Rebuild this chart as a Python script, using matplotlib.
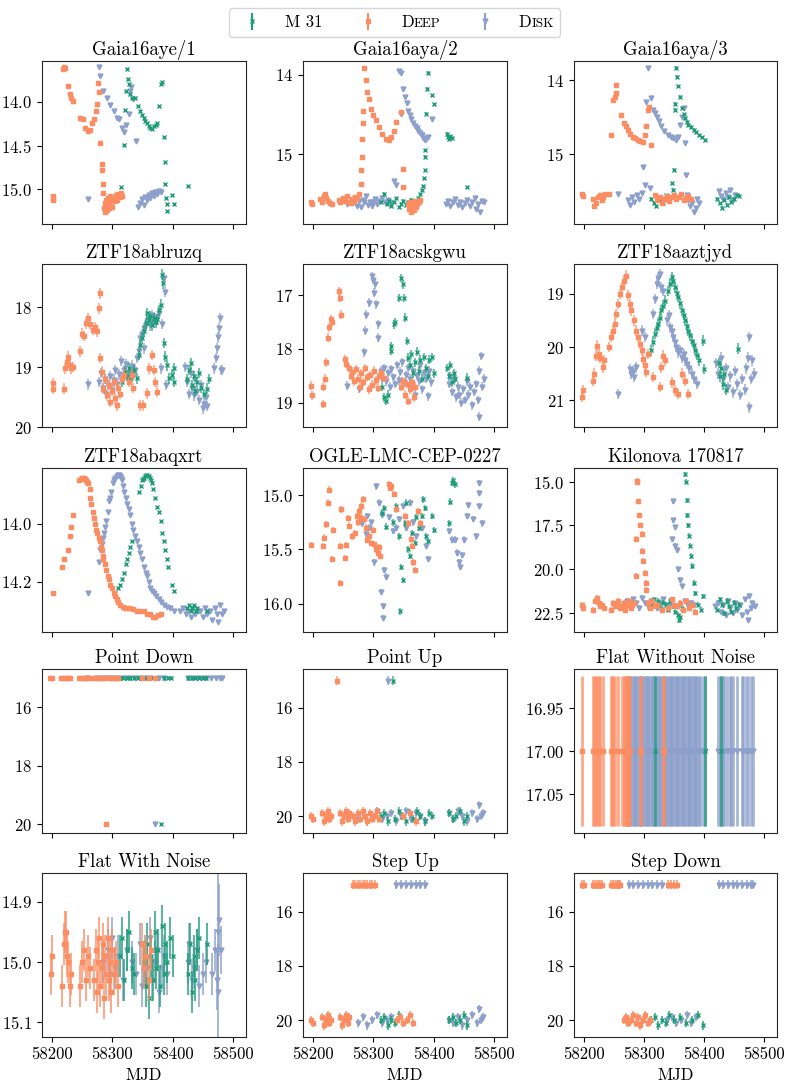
import matplotlib
matplotlib.use("Agg")
import matplotlib.pyplot as plt
from matplotlib.ticker import FixedLocator, ScalarFormatter
from matplotlib.offsetbox import TextArea, HPacker
from matplotlib.container import ErrorbarContainer
from matplotlib.collections import LineCollection

plt.rcParams['font.family'] = ['cmr10', 'DejaVu Serif']
plt.rcParams['mathtext.fontset'] = 'cm'
plt.rcParams['axes.formatter.use_mathtext'] = True
plt.rcParams['font.size'] = 11
plt.rcParams['axes.unicode_minus'] = False

# ---------------- data ----------------
titles = ["Gaia16aye/1", "Gaia16aya/2", "Gaia16aya/3",
          "ZTF18ablruzq", "ZTF18acskgwu", "ZTF18aaztjyd",
          "ZTF18abaqxrt", "OGLE-LMC-CEP-0227", "Kilonova 170817",
          "Point Down", "Point Up", "Flat Without Noise",
          "Flat With Noise", "Step Up", "Step Down"]
survey_labels = ["M 31", "Deep", "Disk"]
xticks = [58200, 58300, 58400, 58500]

# Gaia16aye/1
aye1_m31_t = [58315, 58319, 58321, 58322, 58324, 58326, 58327, 58330, 58332, 58338, 58342, 58346, 58349, 58352, 58354, 58357, 58360, 58363, 58366, 58369, 58372, 58374, 58377, 58380, 58382, 58385, 58387, 58388, 58389, 58390, 58391, 58399, 58402, 58425]
aye1_m31_m = [14.98, 14.49, 14.09, 13.87, 13.62, 13.74, 13.79, 13.91, 13.95, 13.95, 14.05, 14.10, 14.15, 14.18, 14.22, 14.24, 14.27, 14.30, 14.31, 14.28, 14.26, 14.24, 14.05, 13.79, 13.77, 14.40, 14.69, 14.94, 15.10, 15.17, 15.25, 15.07, 15.17, 14.96]
aye1_deep_t = [58201, 58201.5, 58202, 58218, 58219.5, 58221, 58226, 58230, 58232, 58235, 58246, 58251, 58255, 58259, 58262, 58266, 58270, 58272, 58274, 58276, 58278, 58280, 58282, 58283, 58284, 58285, 58286, 58287, 58288, 58289, 58290, 58291, 58292, 58293, 58294, 58295, 58296, 58297, 58298, 58300, 58302, 58304, 58306, 58308, 58310, 58312, 58314, 58316]
aye1_deep_m = [15.08, 15.11, 15.13, 13.62, 13.60, 13.61, 13.82, 13.91, 13.95, 13.99, 14.18, 14.19, 14.30, 14.33, 14.32, 14.24, 14.20, 14.10, 14.02, 13.78, 13.89, 14.47, 14.71, 14.78, 14.94, 15.05, 15.22, 15.16, 15.26, 15.20, 15.12, 15.24, 15.18, 15.10, 15.22, 15.15, 15.08, 15.19, 15.12, 15.21, 15.10, 15.14, 15.07, 15.12, 15.06, 15.09, 15.05, 15.08]
aye1_disk_t = [58259, 58278, 58280, 58285, 58291, 58296, 58302, 58307, 58311, 58316, 58320, 58323, 58327, 58329, 58331, 58335, 58339, 58343, 58346, 58349, 58352, 58354, 58357, 58360, 58363, 58366, 58369, 58371, 58374, 58377, 58380]
aye1_disk_m = [15.11, 13.60, 13.70, 13.87, 13.95, 14.03, 14.10, 14.18, 14.20, 14.30, 14.34, 14.26, 14.14, 13.87, 13.83, 13.97, 14.45, 15.21, 15.16, 15.11, 15.18, 15.09, 15.12, 15.07, 15.10, 15.05, 15.08, 15.03, 15.06, 15.02, 15.03]
aye1_err = [0.01, 0.01, 0.01]

# Gaia16aya/2
aya2_m31_t = [58312, 58318, 58322, 58326, 58330, 58334, 58338, 58342, 58346, 58350, 58354, 58358, 58362, 58366, 58370, 58374, 58378, 58380, 58382, 58384, 58385, 58385.5, 58386, 58388, 58388.5, 58391, 58397, 58401, 58422, 58424, 58426, 58428, 58430, 58456]
aya2_m31_m = [15.60, 15.49, 15.62, 15.58, 15.64, 15.60, 15.55, 15.66, 15.62, 15.58, 15.63, 15.60, 15.57, 15.65, 15.59, 15.55, 15.50, 15.45, 15.40, 15.30, 15.20, 15.03, 14.95, 14.49, 14.18, 13.98, 14.26, 14.37, 14.74, 14.78, 14.80, 14.77, 14.79, 15.41]
aya2_deep_t = [58197, 58198, 58211, 58214, 58218, 58220, 58222, 58225, 58228, 58231, 58242, 58245, 58250, 58253, 58256, 58259, 58262, 58265, 58268, 58270, 58273, 58276, 58279, 58280, 58281, 58281.5, 58282, 58283, 58285, 58287, 58290, 58293, 58296, 58300, 58304, 58310, 58315, 58321, 58326, 58330, 58334, 58338, 58346, 58349, 58350, 58357, 58359, 58361, 58363, 58365, 58367, 58369, 58371, 58373, 58375, 58378]
aya2_deep_m = [15.60, 15.62, 15.56, 15.60, 15.52, 15.49, 15.55, 15.58, 15.61, 15.62, 15.57, 15.60, 15.55, 15.58, 15.52, 15.59, 15.61, 15.56, 15.58, 15.53, 15.55, 15.49, 15.37, 15.20, 15.03, 14.80, 14.60, 14.45, 13.92, 14.07, 14.22, 14.30, 14.43, 14.51, 14.57, 14.66, 14.74, 14.80, 14.82, 14.78, 14.70, 14.59, 14.47, 15.18, 15.41, 15.62, 15.68, 15.60, 15.72, 15.65, 15.70, 15.58, 15.66, 15.62, 15.60, 15.57]
aya2_disk_t = [58256, 58267, 58270, 58273, 58276, 58279, 58282, 58285, 58288, 58291, 58294, 58297, 58300, 58303, 58306, 58310, 58315, 58320, 58325, 58330, 58335, 58338, 58343, 58346, 58346.5, 58349, 58352, 58355, 58357, 58360, 58363, 58366, 58369, 58372, 58374, 58377, 58380, 58383, 58385, 58388, 58390, 58397, 58420, 58424, 58428, 58432, 58436, 58440, 58444, 58448, 58452, 58456, 58460, 58464, 58468, 58471, 58474, 58477, 58480, 58484]
aya2_disk_m = [15.62, 15.60, 15.55, 15.64, 15.58, 15.66, 15.57, 15.60, 15.52, 15.63, 15.59, 15.65, 15.60, 15.56, 15.62, 15.58, 15.55, 15.60, 15.57, 15.61, 15.33, 15.38, 13.96, 13.98, 14.49, 14.18, 14.28, 14.36, 14.45, 14.50, 14.55, 14.60, 14.64, 14.67, 14.70, 14.73, 14.76, 14.79, 14.82, 14.80, 14.78, 14.55, 15.62, 15.58, 15.65, 15.60, 15.56, 15.63, 15.59, 15.66, 15.61, 15.57, 15.64, 15.60, 15.55, 15.68, 15.62, 15.72, 15.58, 15.60]
aya2_err = [0.02, 0.02, 0.02]

# Gaia16aya/3
aya3_m31_t = [58312, 58316, 58320, 58324, 58328, 58332, 58336, 58340, 58344, 58346, 58348, 58350, 58352, 58352.5, 58353, 58355, 58357, 58360, 58363, 58366, 58369, 58372, 58374, 58378, 58383, 58387, 58391, 58396, 58402, 58422, 58426, 58430, 58434, 58438, 58442, 58446, 58450, 58455, 58458]
aya3_m31_m = [15.60, 15.65, 15.70, 15.58, 15.62, 15.66, 15.55, 15.60, 15.58, 15.39, 15.48, 15.21, 14.40, 14.32, 13.83, 13.95, 14.08, 14.22, 14.38, 14.46, 14.51, 14.56, 14.60, 14.63, 14.67, 14.70, 14.74, 14.77, 14.81, 15.60, 15.66, 15.72, 15.62, 15.68, 15.58, 15.64, 15.60, 15.55, 15.56]
aya3_deep_t = [58197, 58198, 58214, 58217, 58220, 58223, 58226, 58229, 58232, 58234, 58242, 58245, 58248, 58252, 58252.5, 58253, 58262, 58267, 58270, 58273, 58277, 58281, 58285, 58290, 58294, 58298, 58301, 58304, 58306, 58308, 58311, 58318, 58322, 58326, 58330, 58334, 58338, 58342, 58346, 58350, 58354, 58358, 58362, 58366, 58370, 58374, 58378]
aya3_deep_m = [15.53, 15.56, 15.60, 15.70, 15.66, 15.58, 15.55, 15.62, 15.57, 15.54, 15.54, 14.74, 14.26, 14.22, 14.07, 14.17, 14.47, 14.58, 14.62, 14.67, 14.72, 14.76, 14.78, 14.81, 14.82, 14.83, 14.74, 14.62, 14.40, 14.36, 14.88, 15.55, 15.62, 15.58, 15.66, 15.60, 15.56, 15.63, 15.58, 15.55, 15.60, 15.57, 15.53, 15.62, 15.59, 15.56, 15.60]
aya3_disk_t = [58256, 58273, 58276, 58280, 58284, 58288, 58292, 58296, 58298, 58301, 58304, 58307, 58310, 58312, 58315, 58318, 58321, 58325, 58329, 58334, 58340, 58345, 58349, 58354, 58357, 58360, 58363, 58366, 58369, 58370, 58371, 58374, 58377, 58380, 58383, 58386, 58389, 58391, 58425, 58428, 58432, 58436, 58440, 58444, 58448, 58452]
aya3_disk_m = [15.53, 15.62, 15.68, 15.58, 15.64, 15.55, 15.60, 15.52, 15.17, 15.42, 14.29, 13.83, 15.45, 14.24, 14.40, 14.44, 14.49, 14.55, 14.62, 14.68, 14.74, 14.77, 14.78, 14.81, 14.76, 14.60, 14.49, 14.38, 14.85, 15.28, 15.55, 15.62, 15.70, 15.65, 15.78, 15.72, 15.60, 15.66, 15.50, 15.56, 15.60, 15.52, 15.58, 15.48, 15.62, 15.55]
aya3_err = [0.02, 0.02, 0.02]

# ZTF18ablruzq
abl_m31_t = [58316, 58321, 58324, 58327, 58330, 58332, 58336, 58341, 58344, 58346, 58349, 58352, 58355, 58357, 58360, 58363, 58366, 58369, 58372, 58374, 58377, 58380, 58382, 58384, 58386, 58388, 58391, 58394, 58399, 58402, 58402.5, 58424, 58427, 58430, 58432, 58435, 58438, 58441, 58444, 58448, 58452, 58457, 58460]
abl_m31_m = [19.25, 19.08, 19.15, 19.02, 19.20, 19.12, 19.05, 19.19, 18.80, 18.63, 18.52, 18.40, 18.27, 18.10, 18.22, 18.15, 18.30, 18.18, 18.25, 18.20, 18.05, 17.96, 17.46, 17.60, 18.60, 18.83, 18.97, 19.19, 19.13, 19.25, 19.02, 19.20, 19.05, 18.94, 19.30, 19.15, 19.40, 19.25, 19.10, 19.35, 19.45, 19.36, 19.20]
abl_deep_t = [58201, 58201.5, 58219, 58221, 58224, 58227, 58230, 58232, 58235, 58246, 58249, 58252, 58256, 58259, 58262, 58267, 58271, 58274, 58277, 58279, 58280, 58282, 58285, 58288, 58291, 58294, 58296, 58299, 58302, 58305, 58307, 58310, 58313, 58316, 58319, 58327, 58332, 58335, 58346, 58351, 58357, 58360, 58366, 58369, 58371, 58374]
abl_deep_m = [19.27, 19.36, 19.36, 19.02, 18.91, 18.83, 18.97, 19.02, 19.00, 18.74, 18.44, 18.48, 18.27, 18.18, 18.28, 18.38, 18.33, 18.40, 18.02, 17.77, 18.85, 19.08, 19.36, 19.20, 19.47, 19.30, 19.58, 19.40, 19.25, 19.52, 19.64, 19.35, 19.45, 19.20, 19.13, 19.25, 19.13, 19.35, 19.64, 19.64, 19.44, 19.02, 18.80, 19.05, 19.25, 19.41]
abl_disk_t = [58259, 58278, 58281, 58284, 58287, 58290, 58293, 58296, 58299, 58302, 58305, 58308, 58311, 58314, 58317, 58320, 58323, 58326, 58329, 58332, 58335, 58338, 58341, 58344, 58346, 58349, 58352, 58352.5, 58355, 58357, 58360, 58363, 58366, 58369, 58371, 58374, 58377, 58380, 58382, 58385, 58388, 58388.5, 58421, 58424, 58427, 58430, 58433, 58435, 58438, 58441, 58444, 58447, 58450, 58452, 58455, 58457, 58469, 58472, 58474, 58476, 58477, 58478, 58480, 58482]
abl_disk_m = [19.29, 19.25, 19.10, 19.35, 19.20, 19.45, 19.30, 19.15, 19.38, 19.22, 19.05, 19.28, 19.12, 18.90, 19.18, 19.05, 18.95, 19.20, 19.10, 18.98, 19.15, 19.05, 18.85, 18.74, 18.52, 18.45, 18.35, 18.69, 18.30, 18.24, 18.20, 18.30, 18.13, 18.25, 18.18, 18.20, 18.10, 19.02, 18.28, 17.51, 17.74, 19.30, 19.00, 19.25, 19.45, 19.10, 19.35, 19.47, 19.20, 19.40, 19.55, 19.30, 19.69, 19.62, 19.50, 19.65, 19.02, 18.85, 18.69, 18.50, 18.35, 18.18, 19.05, 19.05]
abl_err = [0.09, 0.09, 0.09]

# ZTF18acskgwu
acs_m31_t = [58315, 58318, 58321, 58324, 58329, 58330, 58334, 58336, 58343, 58346, 58349, 58351, 58352, 58355, 58357, 58360, 58363, 58366, 58369, 58372, 58375, 58378, 58381, 58384, 58387, 58390, 58393, 58397, 58400, 58422, 58425, 58428, 58431, 58434, 58436, 58456]
acs_m31_m = [18.71, 18.90, 18.96, 18.85, 18.03, 17.95, 17.54, 17.50, 17.05, 16.68, 16.80, 17.05, 17.42, 17.85, 18.16, 18.30, 18.10, 18.45, 18.25, 18.05, 18.40, 18.20, 18.55, 18.15, 18.35, 18.50, 18.20, 18.15, 18.45, 18.35, 18.50, 18.30, 18.62, 18.45, 18.55, 18.53]
acs_deep_t = [58197, 58197.5, 58216, 58217, 58219, 58221, 58225, 58227, 58229, 58231, 58242, 58245, 58246, 58253, 58255, 58259, 58262, 58265, 58268, 58271, 58274, 58277, 58280, 58283, 58286, 58289, 58292, 58295, 58298, 58301, 58304, 58307, 58310, 58312, 58318, 58346, 58349, 58352, 58355, 58358, 58361, 58364, 58367, 58369]
acs_deep_m = [18.68, 18.86, 19.02, 18.71, 18.55, 18.25, 17.79, 17.60, 17.45, 17.50, 16.93, 17.05, 17.36, 18.19, 18.28, 18.35, 18.50, 18.42, 18.60, 18.38, 18.55, 18.70, 18.45, 18.62, 18.35, 18.52, 18.75, 18.48, 18.66, 18.40, 18.58, 18.72, 18.50, 18.45, 18.53, 18.70, 18.60, 18.85, 18.65, 18.97, 18.75, 18.62, 18.90, 18.70]
acs_disk_t = [58256, 58276, 58284, 58286, 58288, 58293, 58298, 58300, 58300.5, 58302, 58304, 58307, 58308, 58312, 58315, 58318, 58321, 58324, 58327, 58330, 58333, 58336, 58339, 58342, 58345, 58348, 58351, 58354, 58357, 58360, 58363, 58366, 58369, 58372, 58375, 58378, 58381, 58384, 58387, 58390, 58393, 58396, 58425, 58428, 58431, 58434, 58437, 58440, 58443, 58446, 58449, 58452, 58455, 58458, 58461, 58464, 58467, 58470, 58473, 58475, 58476, 58478, 58480, 58483]
acs_disk_m = [18.68, 18.74, 18.06, 17.66, 17.36, 17.14, 16.65, 16.71, 16.95, 16.80, 17.17, 17.54, 17.79, 18.40, 18.55, 18.35, 18.60, 18.45, 18.70, 18.38, 18.52, 18.65, 18.30, 18.58, 18.42, 18.25, 18.62, 18.48, 18.35, 18.55, 18.72, 18.40, 18.85, 18.50, 18.60, 18.30, 18.75, 18.45, 18.55, 18.88, 18.40, 18.62, 18.65, 18.50, 18.80, 18.55, 18.90, 18.70, 18.85, 19.00, 18.75, 18.95, 18.60, 18.85, 18.70, 19.05, 18.80, 18.65, 18.95, 19.26, 18.40, 18.13, 18.70, 18.55]
acs_err = [0.08, 0.08, 0.08]

# ZTF18aaztjyd
azt_m31_t = [58312, 58315, 58318, 58321, 58324, 58327, 58329, 58332, 58335, 58340, 58343, 58346, 58349, 58352, 58355, 58357, 58360, 58363, 58366, 58369, 58372, 58374, 58377, 58380, 58383, 58385, 58388, 58391, 58399, 58399.5, 58425, 58427, 58429, 58431, 58433, 58436, 58457]
azt_m31_m = [20.06, 19.90, 19.75, 19.65, 19.56, 19.45, 19.31, 19.22, 19.13, 18.95, 18.81, 18.69, 18.75, 18.88, 18.98, 19.06, 19.18, 19.31, 19.40, 19.50, 19.60, 19.69, 19.78, 19.88, 19.96, 20.06, 20.15, 20.25, 19.88, 20.41, 20.30, 20.55, 20.40, 20.70, 20.50, 20.80, 20.03]
azt_deep_t = [58197, 58197.5, 58214, 58217, 58219, 58221, 58224, 58227, 58231, 58233, 58242, 58245, 58248, 58251, 58253, 58256, 58259, 58263, 58267, 58270, 58273, 58276, 58279, 58283, 58287, 58290, 58293, 58296, 58298, 58301, 58304, 58307, 58315, 58326, 58329, 58332, 58335, 58346, 58352, 58357, 58363, 58369, 58374]
azt_deep_m = [20.94, 20.81, 20.63, 20.50, 20.16, 19.97, 20.13, 20.20, 20.38, 20.25, 20.00, 19.81, 19.69, 19.56, 19.38, 19.19, 19.00, 18.88, 18.75, 18.66, 19.03, 19.19, 19.31, 19.50, 19.69, 19.81, 19.94, 20.06, 20.22, 20.34, 20.47, 20.13, 20.56, 20.75, 20.38, 20.16, 20.25, 20.66, 20.81, 20.88, 20.50, 20.63, 20.88]
azt_disk_t = [58256, 58276, 58279, 58282, 58284, 58287, 58296, 58301, 58315, 58318, 58321, 58324, 58326, 58329, 58332, 58338, 58341, 58343, 58346, 58349, 58352, 58354, 58357, 58360, 58363, 58366, 58369, 58371, 58375, 58380, 58384, 58388, 58420, 58424, 58428, 58432, 58436, 58440, 58444, 58448, 58452, 58456, 58460, 58464, 58468, 58471, 58474, 58475, 58476, 58478, 58481, 58484]
azt_disk_m = [20.88, 20.41, 20.50, 20.45, 20.56, 20.38, 19.69, 19.81, 19.38, 19.10, 18.81, 18.70, 18.63, 18.88, 18.95, 19.50, 19.40, 19.63, 19.70, 19.81, 19.90, 20.00, 20.10, 20.06, 20.20, 20.13, 20.25, 20.31, 20.40, 20.50, 20.60, 20.69, 20.30, 20.50, 20.20, 20.60, 20.40, 20.75, 20.55, 20.85, 20.45, 20.70, 20.90, 20.60, 20.80, 20.40, 20.20, 21.13, 19.81, 20.60, 20.25, 20.50]
azt_err = [0.1, 0.1, 0.1]

# ZTF18abaqxrt
abq_m31_t = [58305, 58309, 58313, 58316, 58319, 58322, 58324, 58327, 58330, 58332, 58345, 58347, 58349, 58351, 58352, 58354, 58356, 58358, 58360, 58362, 58364, 58366, 58368, 58371, 58374, 58377, 58380, 58382, 58385, 58388, 58390, 58392, 58399, 58402, 58424, 58427, 58430, 58433, 58436, 58439, 58441, 58457]
abq_m31_m = [14.24, 14.22, 14.21, 14.19, 14.17, 14.14, 14.12, 14.10, 14.08, 14.06, 13.89, 13.87, 13.85, 13.845, 13.84, 13.835, 13.83, 13.83, 13.835, 13.84, 13.85, 13.86, 13.88, 13.91, 13.94, 13.96, 13.99, 14.03, 14.06, 14.09, 14.12, 14.15, 14.21, 14.23, 14.29, 14.28, 14.30, 14.29, 14.28, 14.30, 14.29, 14.30]
abq_deep_t = [58201, 58217, 58220, 58226, 58229, 58231, 58234, 58245, 58247, 58249, 58251, 58253, 58255, 58256, 58258, 58260, 58262, 58263, 58265, 58267, 58269, 58271, 58273, 58275, 58277, 58279, 58281, 58282, 58284, 58285, 58287, 58290, 58292, 58294, 58296, 58299, 58302, 58305, 58307, 58310, 58313, 58317, 58321, 58325, 58330, 58335, 58341, 58346, 58352, 58357, 58363, 58367, 58371, 58375, 58380]
abq_deep_m = [14.24, 14.15, 14.12, 14.09, 14.04, 14.01, 13.97, 13.85, 13.845, 13.84, 13.84, 13.84, 13.845, 13.85, 13.855, 13.86, 13.88, 13.91, 13.93, 13.96, 13.98, 14.00, 14.02, 14.03, 14.05, 14.06, 14.08, 14.09, 14.11, 14.12, 14.14, 14.16, 14.18, 14.19, 14.21, 14.22, 14.24, 14.25, 14.26, 14.27, 14.28, 14.285, 14.29, 14.29, 14.29, 14.295, 14.30, 14.30, 14.30, 14.31, 14.31, 14.32, 14.32, 14.315, 14.31]
abq_disk_t = [58259, 58278, 58280, 58282, 58284, 58286, 58288, 58290, 58292, 58294, 58296, 58298, 58301, 58303, 58305, 58307, 58309, 58311, 58312, 58314, 58316, 58318, 58320, 58322, 58324, 58327, 58330, 58333, 58335, 58338, 58341, 58344, 58346, 58349, 58352, 58355, 58357, 58360, 58363, 58366, 58369, 58373, 58377, 58381, 58385, 58390, 58396, 58402, 58413, 58418, 58422, 58426, 58430, 58434, 58438, 58442, 58446, 58450, 58454, 58458, 58462, 58466, 58470, 58474, 58476, 58478, 58482, 58485]
abq_disk_m = [14.24, 14.13, 14.09, 14.07, 14.05, 14.03, 14.01, 13.99, 13.96, 13.92, 13.91, 13.89, 13.86, 13.85, 13.84, 13.835, 13.83, 13.83, 13.835, 13.84, 13.85, 13.87, 13.89, 13.91, 13.93, 13.95, 13.97, 14.00, 14.02, 14.04, 14.06, 14.08, 14.10, 14.12, 14.15, 14.17, 14.18, 14.20, 14.22, 14.23, 14.24, 14.25, 14.26, 14.27, 14.28, 14.285, 14.29, 14.30, 14.30, 14.29, 14.31, 14.30, 14.32, 14.29, 14.31, 14.30, 14.30, 14.32, 14.29, 14.31, 14.30, 14.33, 14.29, 14.31, 14.34, 14.28, 14.31, 14.30]
abq_err = [0.003, 0.003, 0.003]

# OGLE-LMC-CEP-0227
ogle_m31_t = [58315, 58318, 58321, 58332, 58338, 58343, 58343.5, 58346, 58349, 58352, 58354, 58357, 58360, 58364, 58369, 58371, 58375, 58380, 58383, 58385, 58388, 58391, 58397, 58401, 58425, 58427, 58430, 58433, 58436]
ogle_m31_m = [15.16, 15.12, 15.29, 15.25, 15.10, 15.38, 16.07, 15.66, 15.78, 15.26, 15.07, 15.50, 15.56, 15.35, 15.44, 15.20, 15.30, 15.19, 15.04, 15.12, 15.38, 15.42, 15.19, 15.32, 15.26, 15.06, 14.89, 14.86, 14.90]
ogle_deep_t = [58197, 58216, 58218, 58221, 58224, 58226, 58231, 58233, 58244, 58245, 58246, 58252, 58255, 58257, 58259, 58265, 58269, 58272, 58274, 58276, 58278, 58280, 58283, 58285, 58287, 58290, 58293, 58296, 58299, 58301, 58304, 58307, 58309, 58311, 58326, 58328, 58330, 58334, 58338, 58352, 58357, 58362, 58364, 58366, 58369, 58374, 58377]
ogle_deep_m = [15.46, 15.47, 15.39, 15.27, 15.07, 14.95, 15.59, 15.32, 15.81, 15.47, 15.13, 15.58, 15.46, 15.21, 15.28, 15.38, 15.35, 15.19, 15.25, 15.15, 15.20, 15.10, 15.04, 15.22, 15.30, 15.41, 15.38, 15.44, 15.32, 15.45, 15.50, 15.53, 15.48, 15.56, 14.90, 14.93, 14.92, 14.99, 15.13, 15.19, 15.26, 15.40, 15.47, 15.62, 15.69, 15.15, 15.26]
ogle_disk_t = [58281, 58287, 58290, 58293, 58296, 58301, 58304, 58310, 58313, 58315, 58315.5, 58316, 58318, 58321, 58326, 58332, 58338, 58343, 58349, 58354, 58360, 58366, 58371, 58380, 58388, 58391, 58425, 58430, 58436, 58439, 58442, 58444, 58447, 58450, 58456, 58458, 58465, 58470, 58475, 58475.5, 58476, 58481]
ogle_disk_m = [15.26, 15.36, 15.19, 15.30, 15.25, 15.62, 14.92, 15.07, 15.89, 15.18, 16.02, 16.13, 15.69, 15.75, 15.20, 15.33, 15.30, 15.22, 15.10, 15.30, 15.07, 15.25, 15.38, 15.30, 15.47, 15.59, 15.33, 15.41, 15.41, 15.53, 15.62, 15.66, 15.55, 15.41, 15.19, 15.09, 15.22, 15.38, 15.10, 14.98, 14.89, 15.26]
ogle_err = [0.03, 0.03, 0.03]

# Kilonova 170817
kn_m31_t = [58312, 58316, 58320, 58324, 58328, 58332, 58336, 58340, 58344, 58348, 58352, 58356, 58358, 58360, 58363, 58369, 58370, 58371, 58371.5, 58373, 58375, 58377, 58379, 58380, 58383, 58385, 58390, 58395, 58399, 58422, 58426, 58430, 58434, 58438, 58442, 58446, 58450, 58454, 58458]
kn_m31_m = [22.0, 21.7, 22.1, 21.8, 22.2, 21.9, 22.0, 22.3, 21.8, 22.1, 22.4, 22.6, 22.9, 22.7, 22.2, 14.58, 15.0, 16.06, 16.92, 17.50, 18.08, 18.65, 19.23, 19.81, 20.77, 21.35, 22.0, 22.3, 21.54, 22.3, 21.7, 22.0, 22.5, 21.8, 22.1, 22.4, 21.9, 22.2, 22.0]
kn_deep_t = [58197, 58198, 58215, 58218, 58221, 58224, 58227, 58230, 58233, 58245, 58248, 58251, 58254, 58257, 58260, 58263, 58266, 58269, 58272, 58275, 58278, 58280, 58283, 58286, 58287, 58287.5, 58288, 58290, 58292, 58293, 58296, 58297, 58298, 58301, 58303, 58304, 58306, 58310, 58314, 58318, 58322, 58330, 58340, 58346, 58350, 58355, 58360, 58365, 58370, 58375, 58380, 58385]
kn_deep_m = [22.0, 22.2, 22.3, 21.8, 21.6, 21.9, 22.1, 22.0, 22.2, 22.3, 21.9, 22.1, 22.0, 21.8, 22.2, 22.1, 21.9, 22.3, 22.0, 21.8, 22.2, 22.0, 21.9, 20.38, 18.27, 14.96, 15.0, 16.12, 16.92, 17.50, 17.98, 18.94, 19.52, 20.19, 20.77, 21.15, 21.9, 22.2, 21.8, 22.1, 22.0, 22.3, 22.2, 21.7, 22.0, 22.1, 21.9, 22.3, 21.8, 22.2, 22.0, 22.4]
kn_disk_t = [58256, 58267, 58272, 58277, 58282, 58287, 58292, 58297, 58302, 58307, 58312, 58317, 58322, 58327, 58332, 58337, 58342, 58346, 58348, 58349, 58352, 58352.5, 58355, 58357, 58360, 58363, 58368, 58373, 58378, 58383, 58419, 58424, 58428, 58432, 58436, 58440, 58444, 58448, 58452, 58456, 58460, 58464, 58468, 58472, 58474, 58476, 58478, 58481, 58485]
kn_disk_m = [21.92, 22.1, 21.8, 22.0, 21.7, 21.9, 22.2, 21.6, 21.9, 22.1, 21.8, 22.0, 22.2, 21.9, 21.7, 22.0, 22.1, 18.27, 16.12, 17.21, 17.6, 18.65, 18.9, 20.0, 20.58, 20.96, 21.8, 22.1, 21.9, 22.0, 22.1, 21.9, 22.4, 22.0, 22.6, 21.8, 22.2, 22.5, 21.9, 22.3, 22.0, 22.6, 21.7, 22.4, 22.9, 21.5, 22.2, 21.9, 22.1]
kn_err = [0.15, 0.15, 0.15]

# Point Down
pd_m31_t = [58312, 58318, 58324, 58330, 58336, 58342, 58348, 58354, 58360, 58366, 58372, 58380, 58386, 58392, 58398, 58426, 58432, 58438, 58444, 58450, 58456]
pd_m31_m = [15.0, 15.0, 15.0, 15.0, 15.0, 15.0, 15.0, 15.0, 15.0, 15.0, 15.0, 20.0, 15.0, 15.0, 15.0, 15.0, 15.0, 15.0, 15.0, 15.0, 15.0]
pd_deep_t = [58197, 58199, 58215, 58218, 58221, 58224, 58227, 58230, 58245, 58248, 58251, 58254, 58257, 58260, 58266, 58270, 58274, 58278, 58282, 58286, 58290, 58294, 58298, 58302, 58306, 58310, 58350, 58360, 58370]
pd_deep_m = [15.0, 15.0, 15.0, 15.0, 15.0, 15.0, 15.0, 15.0, 15.0, 15.0, 15.0, 15.0, 15.0, 15.0, 15.0, 15.0, 15.0, 15.0, 15.0, 15.0, 20.0, 15.0, 15.0, 15.0, 15.0, 15.0, 15.0, 15.0, 15.0]
pd_disk_t = [58258, 58275, 58282, 58290, 58298, 58306, 58314, 58322, 58330, 58338, 58346, 58354, 58362, 58371, 58378, 58386, 58425, 58432, 58440, 58448, 58456, 58464, 58472, 58478, 58482]
pd_disk_m = [15.0, 15.0, 15.0, 15.0, 15.0, 15.0, 15.0, 15.0, 15.0, 15.0, 15.0, 15.0, 15.0, 20.0, 15.0, 15.0, 15.0, 15.0, 15.0, 15.0, 15.0, 15.0, 15.0, 15.0, 15.0]
pd_err = [0.05, 0.05, 0.05]

# Point Up
pu_m31_t = [58312, 58318, 58324, 58332, 58336, 58342, 58348, 58354, 58360, 58366, 58372, 58378, 58386, 58392, 58398, 58426, 58432, 58438, 58444, 58450, 58456]
pu_m31_m = [20.0, 19.9, 20.2, 15.0, 20.1, 19.8, 20.0, 20.2, 19.9, 20.1, 19.8, 20.0, 20.2, 19.9, 20.0, 19.9, 20.1, 20.0, 19.8, 20.2, 20.0]
pu_deep_t = [58197, 58199, 58215, 58218, 58221, 58224, 58227, 58230, 58239, 58245, 58248, 58251, 58254, 58257, 58260, 58266, 58270, 58274, 58278, 58282, 58286, 58290, 58294, 58298, 58302, 58306, 58310, 58350, 58360, 58370]
pu_deep_m = [20.0, 20.1, 19.9, 20.2, 20.0, 19.8, 20.1, 20.0, 15.0, 19.9, 20.2, 20.0, 19.8, 20.1, 19.9, 20.0, 20.2, 19.9, 20.1, 19.8, 20.0, 20.2, 19.9, 20.1, 20.0, 19.8, 20.1, 20.0, 19.9, 20.2]
pu_disk_t = [58258, 58275, 58282, 58290, 58298, 58306, 58314, 58322, 58324, 58330, 58338, 58346, 58354, 58362, 58371, 58378, 58386, 58425, 58432, 58440, 58448, 58456, 58464, 58472, 58475, 58478, 58482]
pu_disk_m = [20.0, 20.1, 19.9, 20.2, 20.0, 19.8, 20.1, 20.0, 15.0, 19.9, 20.2, 20.0, 19.8, 20.1, 19.9, 20.0, 20.2, 19.9, 20.1, 19.8, 20.0, 20.2, 19.9, 20.1, 19.6, 20.0, 19.9]
pu_err = [0.15, 0.15, 0.15]

# Flat Without Noise
fwn_m31_t = [58318, 58401, 58428]
fwn_m31_m = [17.0, 17.0, 17.0]
fwn_deep_t = [58197, 58215, 58217, 58219, 58222, 58225, 58227, 58231, 58244, 58246, 58248, 58252, 58256, 58263, 58266, 58268, 58270, 58271, 58273, 58274, 58276, 58293, 58295, 58332, 58334]
fwn_deep_m = [17.0, 17.0, 17.0, 17.0, 17.0, 17.0, 17.0, 17.0, 17.0, 17.0, 17.0, 17.0, 17.0, 17.0, 17.0, 17.0, 17.0, 17.0, 17.0, 17.0, 17.0, 17.0, 17.0, 17.0, 17.0]
fwn_disk_t = [58273, 58275, 58277, 58279, 58281, 58283, 58285, 58287, 58289, 58291, 58293, 58295, 58297, 58299, 58301, 58303, 58305, 58307, 58309, 58311, 58313, 58315, 58317, 58319, 58321, 58323, 58325, 58327, 58329, 58331, 58333, 58335, 58337, 58339, 58341, 58343, 58345, 58347, 58349, 58351, 58353, 58355, 58357, 58359, 58361, 58363, 58365, 58367, 58369, 58371, 58373, 58375, 58377, 58379, 58381, 58383, 58385, 58387, 58389, 58391, 58393, 58399, 58402, 58423, 58426, 58428, 58432, 58434, 58438, 58443, 58446, 58449, 58455, 58463, 58466, 58470, 58473, 58478, 58482]
fwn_disk_m = [17.0, 17.0, 17.0, 17.0, 17.0, 17.0, 17.0, 17.0, 17.0, 17.0, 17.0, 17.0, 17.0, 17.0, 17.0, 17.0, 17.0, 17.0, 17.0, 17.0, 17.0, 17.0, 17.0, 17.0, 17.0, 17.0, 17.0, 17.0, 17.0, 17.0, 17.0, 17.0, 17.0, 17.0, 17.0, 17.0, 17.0, 17.0, 17.0, 17.0, 17.0, 17.0, 17.0, 17.0, 17.0, 17.0, 17.0, 17.0, 17.0, 17.0, 17.0, 17.0, 17.0, 17.0, 17.0, 17.0, 17.0, 17.0, 17.0, 17.0, 17.0, 17.0, 17.0, 17.0, 17.0, 17.0, 17.0, 17.0, 17.0, 17.0, 17.0, 17.0, 17.0, 17.0, 17.0, 17.0, 17.0, 17.0, 17.0]
fwn_err = [0.0875, 0.0875, 0.0875]

# Flat With Noise
fn_m31_t = [58312, 58316, 58320, 58324, 58328, 58332, 58336, 58352, 58355, 58358, 58361, 58364, 58367, 58370, 58373, 58376, 58379, 58382, 58385, 58388, 58391, 58395, 58400, 58426, 58429, 58432, 58435, 58438, 58441, 58444, 58457]
fn_m31_m = [14.99, 14.96, 15.03, 14.98, 14.95, 15.01, 15.02, 15.00, 15.04, 14.97, 15.06, 14.99, 15.03, 14.95, 15.01, 14.98, 15.04, 14.94, 15.02, 14.97, 15.00, 14.96, 14.99, 15.02, 14.97, 15.05, 14.99, 15.03, 14.98, 14.96, 14.97]
fn_deep_t = [58198, 58199, 58217, 58219, 58221, 58223, 58225, 58227, 58229, 58231, 58246, 58249, 58252, 58256, 58259, 58262, 58270, 58272, 58274, 58276, 58278, 58280, 58282, 58284, 58286, 58288, 58290, 58292, 58294, 58296, 58298, 58300, 58303, 58306, 58309, 58350, 58353, 58356, 58360, 58364]
fn_deep_m = [15.02, 14.99, 15.04, 14.97, 14.95, 14.95, 14.99, 15.00, 15.04, 15.02, 15.04, 15.00, 14.98, 15.03, 14.99, 15.01, 15.03, 14.98, 15.05, 15.00, 14.96, 15.04, 15.01, 14.97, 15.06, 14.99, 15.02, 14.96, 15.03, 15.00, 15.05, 14.98, 15.02, 15.00, 15.04, 14.97, 15.01, 14.99, 15.03, 14.98]
fn_disk_t = [58285, 58292, 58296, 58300, 58305, 58310, 58318, 58325, 58332, 58340, 58346, 58350, 58354, 58358, 58362, 58366, 58370, 58374, 58378, 58382, 58386, 58390, 58425, 58428, 58432, 58436, 58440, 58444, 58450, 58456, 58466, 58470, 58473, 58475, 58476, 58477, 58480]
fn_disk_m = [15.00, 14.98, 15.02, 14.96, 15.01, 14.99, 15.03, 14.98, 15.00, 15.02, 14.97, 15.04, 14.99, 15.01, 14.96, 15.03, 15.00, 14.98, 15.05, 15.01, 14.99, 15.02, 15.00, 14.97, 15.03, 15.01, 14.98, 15.04, 15.02, 15.00, 15.02, 14.98, 15.03, 14.95, 15.05, 14.93, 14.98]
fn_disk_e = [0.035, 0.035, 0.035, 0.035, 0.035, 0.035, 0.035, 0.035, 0.035, 0.035, 0.035, 0.035, 0.035, 0.035, 0.035, 0.035, 0.035, 0.035, 0.035, 0.035, 0.035, 0.035, 0.035, 0.035, 0.035, 0.035, 0.035, 0.035, 0.035, 0.035, 0.035, 0.035, 0.05, 0.1, 0.08, 0.06, 0.04]
fn_err = [0.035, 0.035, fn_disk_e]

# Step Up
su_m31_t = [58312, 58318, 58324, 58330, 58336, 58342, 58426, 58432, 58438, 58444, 58450, 58456]
su_m31_m = [20.0, 19.9, 20.2, 20.0, 20.1, 19.8, 20.0, 19.9, 20.1, 20.0, 19.8, 20.2]
su_deep_t = [58197, 58199, 58215, 58218, 58221, 58224, 58227, 58230, 58245, 58248, 58251, 58254, 58257, 58260, 58266, 58270, 58274, 58278, 58282, 58286, 58290, 58294, 58298, 58302, 58340, 58345, 58350, 58355, 58360, 58365]
su_deep_m = [20.0, 20.1, 19.9, 20.2, 20.0, 19.8, 20.1, 20.0, 19.9, 20.2, 20.0, 19.8, 20.1, 19.9, 15.0, 15.0, 15.0, 15.0, 15.0, 15.0, 15.0, 15.0, 15.0, 15.0, 20.0, 19.9, 20.1, 20.0, 19.8, 20.1]
su_disk_t = [58258, 58275, 58282, 58290, 58298, 58306, 58314, 58322, 58330, 58338, 58346, 58354, 58362, 58371, 58378, 58386, 58425, 58432, 58440, 58448, 58456, 58464, 58472, 58475, 58478, 58482]
su_disk_m = [20.0, 20.1, 19.9, 20.2, 20.0, 19.8, 20.1, 20.0, 19.9, 15.0, 15.0, 15.0, 15.0, 15.0, 15.0, 15.0, 20.0, 20.1, 19.9, 20.2, 20.0, 19.8, 20.1, 19.6, 20.0, 19.9]
su_err = [0.15, 0.15, 0.15]

# Step Down
sd_m31_t = [58312, 58318, 58324, 58330, 58336, 58342, 58350, 58360, 58370, 58380, 58390, 58398]
sd_m31_m = [20.0, 19.9, 20.2, 20.0, 20.1, 19.8, 20.0, 19.9, 20.1, 20.0, 19.8, 20.2]
sd_deep_t = [58197, 58199, 58215, 58218, 58221, 58224, 58227, 58230, 58245, 58248, 58251, 58254, 58257, 58260, 58266, 58270, 58274, 58278, 58282, 58286, 58290, 58294, 58298, 58302, 58306, 58310, 58340, 58345, 58350, 58355]
sd_deep_m = [15.0, 15.0, 15.0, 15.0, 15.0, 15.0, 15.0, 15.0, 15.0, 15.0, 15.0, 15.0, 15.0, 15.0, 20.0, 19.9, 20.1, 20.0, 19.8, 20.1, 19.9, 20.2, 20.0, 19.8, 20.1, 20.0, 15.0, 15.0, 15.0, 15.0]
sd_disk_t = [58258, 58275, 58282, 58290, 58298, 58306, 58314, 58322, 58330, 58338, 58346, 58354, 58362, 58371, 58378, 58386, 58425, 58432, 58440, 58448, 58456, 58464, 58472, 58478, 58482]
sd_disk_m = [15.0, 15.0, 15.0, 15.0, 15.0, 15.0, 15.0, 15.0, 15.0, 20.0, 19.9, 20.1, 20.0, 19.8, 20.1, 19.9, 15.0, 15.0, 15.0, 15.0, 15.0, 15.0, 15.0, 15.0, 15.0]
sd_err = [0.15, 0.15, 0.15]

panel_series = [
    (aye1_m31_t, aye1_m31_m, aye1_deep_t, aye1_deep_m, aye1_disk_t, aye1_disk_m, aye1_err),
    (aya2_m31_t, aya2_m31_m, aya2_deep_t, aya2_deep_m, aya2_disk_t, aya2_disk_m, aya2_err),
    (aya3_m31_t, aya3_m31_m, aya3_deep_t, aya3_deep_m, aya3_disk_t, aya3_disk_m, aya3_err),
    (abl_m31_t, abl_m31_m, abl_deep_t, abl_deep_m, abl_disk_t, abl_disk_m, abl_err),
    (acs_m31_t, acs_m31_m, acs_deep_t, acs_deep_m, acs_disk_t, acs_disk_m, acs_err),
    (azt_m31_t, azt_m31_m, azt_deep_t, azt_deep_m, azt_disk_t, azt_disk_m, azt_err),
    (abq_m31_t, abq_m31_m, abq_deep_t, abq_deep_m, abq_disk_t, abq_disk_m, abq_err),
    (ogle_m31_t, ogle_m31_m, ogle_deep_t, ogle_deep_m, ogle_disk_t, ogle_disk_m, ogle_err),
    (kn_m31_t, kn_m31_m, kn_deep_t, kn_deep_m, kn_disk_t, kn_disk_m, kn_err),
    (pd_m31_t, pd_m31_m, pd_deep_t, pd_deep_m, pd_disk_t, pd_disk_m, pd_err),
    (pu_m31_t, pu_m31_m, pu_deep_t, pu_deep_m, pu_disk_t, pu_disk_m, pu_err),
    (fwn_m31_t, fwn_m31_m, fwn_deep_t, fwn_deep_m, fwn_disk_t, fwn_disk_m, fwn_err),
    (fn_m31_t, fn_m31_m, fn_deep_t, fn_deep_m, fn_disk_t, fn_disk_m, fn_err),
    (su_m31_t, su_m31_m, su_deep_t, su_deep_m, su_disk_t, su_disk_m, su_err),
    (sd_m31_t, sd_m31_m, sd_deep_t, sd_deep_m, sd_disk_t, sd_disk_m, sd_err),
]

yticks = [[14.0, 14.5, 15.0], [14, 15], [14, 15],
          [18, 19, 20], [17, 18, 19], [19, 20, 21],
          [14.0, 14.2], [15.0, 15.5, 16.0], [15.0, 17.5, 20.0, 22.5],
          [16, 18, 20], [16, 18, 20], [16.95, 17.00, 17.05],
          [14.9, 15.0, 15.1], [16, 18, 20], [16, 18, 20]]
ylims = [(15.40, 13.53), (15.87, 13.83), (15.94, 13.74),
         (20.0, 17.28), (19.45, 16.42), (21.5, 18.44),
         (14.373, 13.807), (16.26, 14.75), (23.56, 14.23),
         None, None, (17.096, 16.904),
         (15.125, 14.852), None, None]

# ---------------- styles ----------------
colors = ["#1b9e77", "#fc8d62", "#8da0cb"]
markers = ["x", "s", "v"]
msizes = [3.0, 3.0, 3.5]
zorders = [3, 4, 2]
elw = [1.2] * 11 + [2.0] + [1.4] * 3

W, H = 789, 1085
fig = plt.figure(figsize=(W / 100, H / 100), dpi=100)
col_x = [(42, 246), (303, 507), (574, 777)]
row_y = [(61, 224), (264, 427), (468, 632), (669, 833), (873, 1037)]

for i, title in enumerate(titles):
    r, c = divmod(i, 3)
    x0, x1 = col_x[c]
    y0, y1 = row_y[r]
    ax = fig.add_axes([x0 / W, 1 - y1 / H, (x1 - x0) / W, (y1 - y0) / H])
    data = panel_series[i]
    errs = data[6]
    for s in [2, 0, 1]:
        t = data[2 * s]
        m = data[2 * s + 1]
        n = min(len(t), len(m))
        e = errs[s]
        if isinstance(e, list):
            e = e[:n]
        res = ax.errorbar(t[:n], m[:n], yerr=e, fmt=markers[s], color=colors[s],
                          ms=msizes[s], mew=1.0, elinewidth=elw[i], capsize=0,
                          zorder=zorders[s])
        for lc in res[2]:
            lc.set_alpha(0.75)
    ax.set_xlim(58183, 58522)
    if ylims[i] is not None:
        ax.set_ylim(*ylims[i])
    else:
        ax.invert_yaxis()
    ax.set_title(title, fontsize=13.5, pad=4)
    ax.xaxis.set_major_locator(FixedLocator(xticks))
    ax.yaxis.set_major_locator(FixedLocator(yticks[i]))
    ax.yaxis.set_major_formatter(ScalarFormatter(useOffset=False))
    ax.tick_params(labelsize=12)
    if r < 4:
        ax.set_xticklabels([])
    else:
        ax.set_xticklabels([str(v) for v in xticks])
        ax.set_xlabel("MJD", fontsize=12)
    for sp in ax.spines.values():
        sp.set_color("#262626")

# legend
leg_handles = []
for s in range(3):
    ln = plt.Line2D([0], [0], color=colors[s], marker=markers[s], ms=msizes[s], lw=0)
    bar = LineCollection([[(0, 0), (0, 1)]], colors=colors[s])
    leg_handles.append(ErrorbarContainer((ln, (), (bar,)), has_xerr=False, has_yerr=True))

leg = fig.legend(leg_handles, ["M 31", "D", "D"], loc="upper center",
                 bbox_to_anchor=(0.5, 1.0), ncol=3, fontsize=12,
                 columnspacing=1.7, handletextpad=1.0, frameon=True)
try:
    items = []
    for col in leg._legend_handle_box.get_children():
        for item in col.get_children():
            items.append(item)
    words = [None, "EEP", "ISK"]
    for k, item in enumerate(items):
        if words[k] is None:
            continue
        ch = item.get_children()
        big = TextArea("D", textprops=dict(size=12))
        sm = TextArea(words[k], textprops=dict(size=9.5))
        hp = HPacker(children=[big, sm], align="baseline", pad=0, sep=0)
        for j, cc in enumerate(ch):
            if isinstance(cc, TextArea):
                ch[j] = hp
    leg._legend_box.set_figure(fig)
except Exception:
    pass

fig.savefig("out.png", dpi=100)
